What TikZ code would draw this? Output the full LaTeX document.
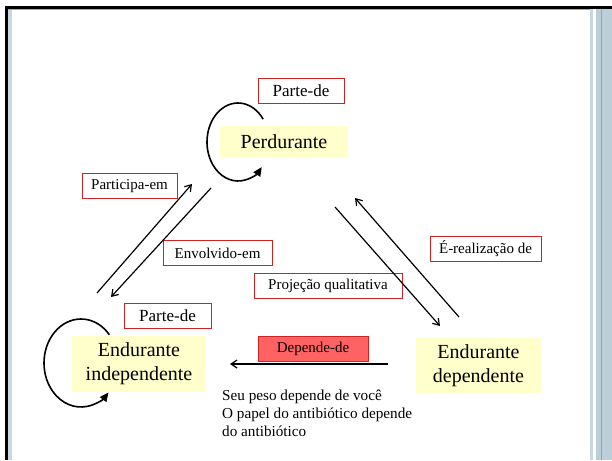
\documentclass[tikz,border=0pt]{standalone}
\usepackage{fontspec}
\setmainfont{Liberation Serif}
\usetikzlibrary{arrows.meta}
\definecolor{boxyellow}{RGB}{255,255,204}
\definecolor{relred}{RGB}{205,35,35}
\definecolor{relfill}{RGB}{255,98,98}
\definecolor{stripe}{RGB}{200,216,225}
\definecolor{panel}{RGB}{188,207,216}
\definecolor{panelline}{RGB}{140,168,184}
\begin{document}
\begin{tikzpicture}[x=1pt,y=1pt,
    concept/.style={fill=boxyellow, inner sep=0pt, align=center, font=\fontsize{20}{24}\selectfont},
    rel/.style={draw=relred, line width=0.8pt, inner sep=0pt, minimum height=25pt, font=\fontsize{15}{18}\selectfont},
    link/.style={line width=1.2pt, -{Straight Barb[length=6pt,width=8pt]}},
    selfloop/.style={line width=1.6pt, -{Triangle[length=9pt,width=8pt]}}]
      \useasboundingbox (0,0) rectangle (612,-460);
      % frame of the slide
      \fill [stripe] (8,-9) rectangle (12,-460);
      \fill [stripe] (590,-9) rectangle (593,-460);
      \fill [panel] (596,-9) rectangle (612,-460);
      \draw [panelline, line width=1.5pt] (601.5,-9) -- (601.5,-460);
      \draw [gray!70, line width=0.6pt] (8,-9.6) -- (590,-9.6);
      \draw [line width=3pt] (6,-460) -- (6,-7.5) -- (612,-7.5);
      % concepts
      \node [concept, minimum width=128pt, minimum height=31pt] (perd) at (284,-141.5) {Perdurante};
      \node [concept, minimum width=134pt, minimum height=56pt] (indep) at (139,-364) {Endurante\\independente};
      \node [concept, minimum width=125pt, minimum height=55pt] (dep) at (478.5,-365.5) {Endurante\\dependente};
      % relations
      \node [rel, minimum width=86pt, font=\fontsize{17}{20}\selectfont] (partetop) at (301,-91) {Parte-de};
      \node [rel, minimum width=95pt] (participa) at (129.5,-186) {Participa-em};
      \node [rel, minimum width=109pt] (envolvido) at (217.5,-253) {Envolvido-em};
      \node [rel, minimum width=148pt] (projecao) at (328,-286) {Projeção qualitativa};
      \node [rel, minimum width=111pt] (realiza) at (485.5,-248.5) {É-realização de};
      \node [rel, minimum width=87pt, font=\fontsize{17}{20}\selectfont] (partelow) at (167.5,-315.5) {Parte-de};
      \node [rel, fill=relfill, minimum width=110pt] (depende) at (313,-348.5) {Depende-de};
      % arrow ends
      \coordinate (pa1) at (97,-293);
      \coordinate (pa2) at (192,-184);
      \coordinate (en1) at (211,-188);
      \coordinate (en2) at (111,-297);
      \coordinate (pq1) at (335,-207);
      \coordinate (pq2) at (440,-326);
      \coordinate (re1) at (459,-317);
      \coordinate (re2) at (355,-198);
      \coordinate (dd1) at (388,-364);
      \coordinate (dd2) at (230,-364);
      \draw [link] (pa1) -- (pa2);
      \draw [link] (en1) -- (en2);
      \draw [link] (pq1) -- (pq2);
      \draw [link] (re1) -- (re2);
      \draw [link] (dd1) -- (dd2);
      % self loops
      \draw [selfloop] (238,-142) ++(36:31 and 39) arc [start angle=36, end angle=320, x radius=31, y radius=39];
      \draw [selfloop] (81,-363) ++(40:37 and 44) arc [start angle=40, end angle=318, x radius=37, y radius=44];
      % examples
      \node [anchor=north west, align=left, inner sep=0pt, font=\fontsize{15.2}{18}\selectfont] (examples) at (222,-390) {Seu peso depende de você\\O papel do antibiótico depende\\do antibiótico};
\end{tikzpicture}
\end{document}
